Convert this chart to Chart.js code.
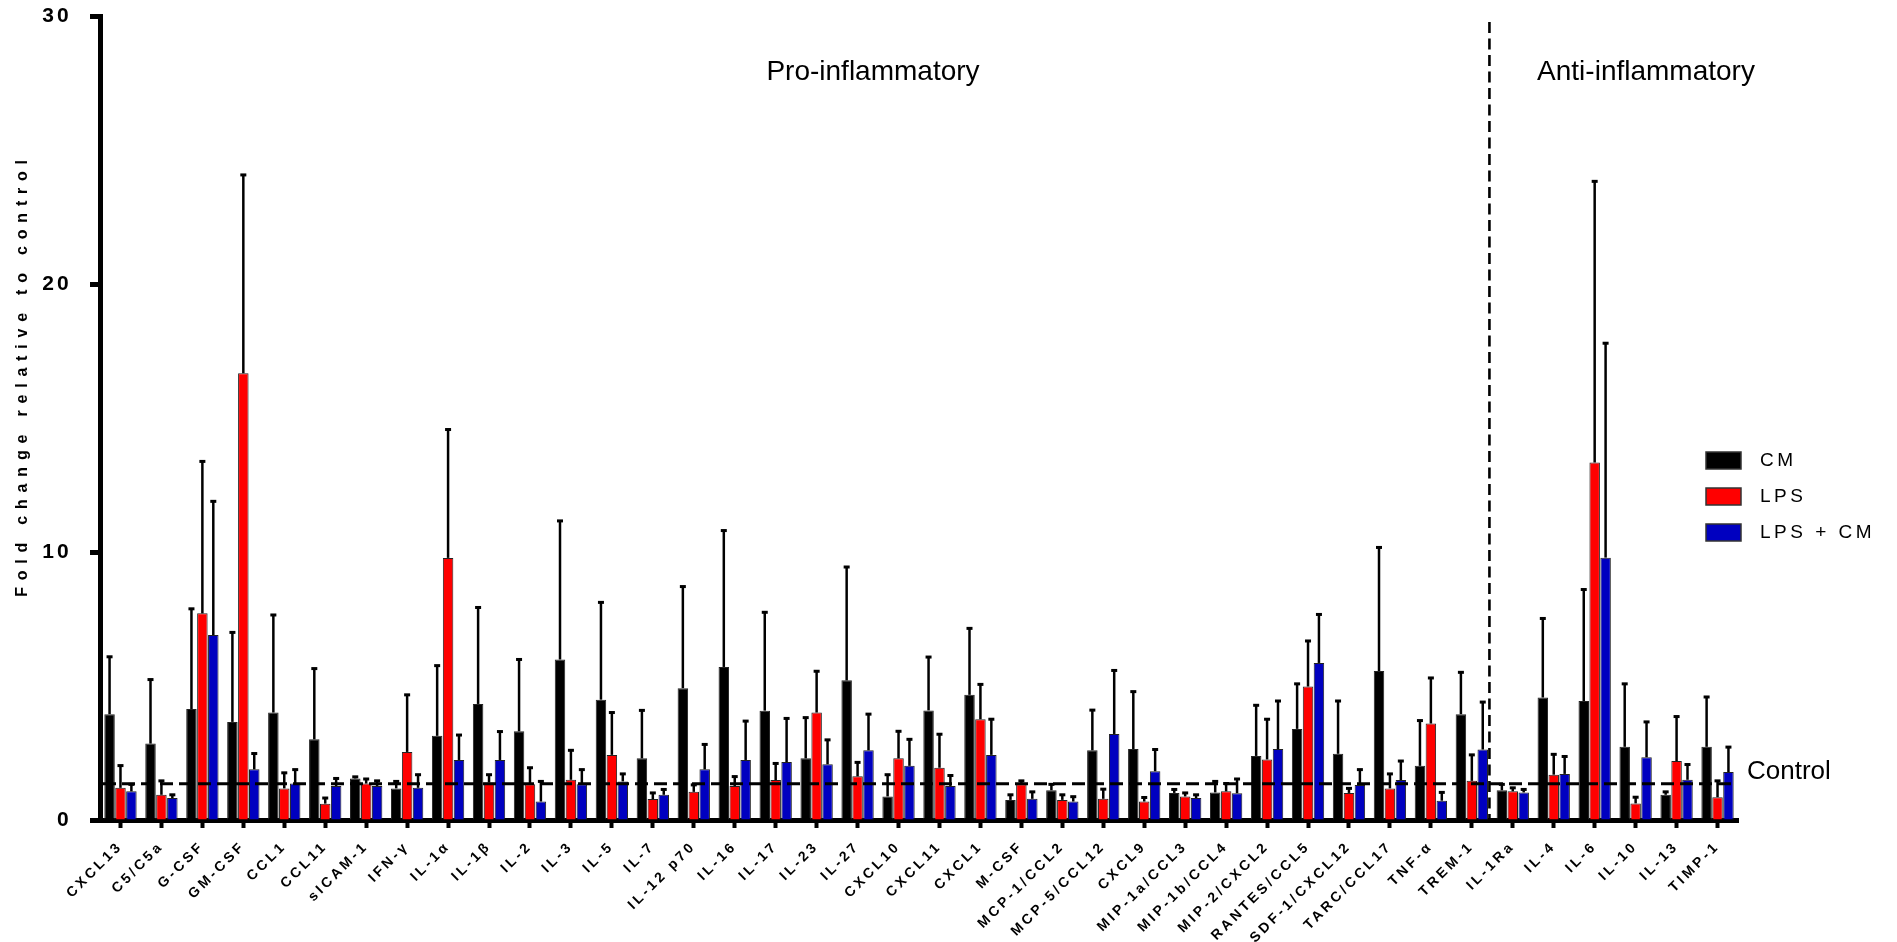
<!DOCTYPE html>
<html>
<head>
<meta charset="utf-8">
<script src="https://cdn.jsdelivr.net/npm/chart.js@4/dist/chart.umd.min.js"></script>
<style>
  html, body { margin: 0; padding: 0; background: #fff; }
  #wrap { width: 1897px; height: 942px; position: relative; }
</style>
</head>
<body>
<div id="wrap"><canvas id="c" width="1897" height="942"></canvas></div>
<script>
// Cytokine / chemokine panel: fold change relative to control (mean + upper SD)
const categories = ['CXCL13','C5/C5a','G-CSF','GM-CSF','CCL1','CCL11','sICAM-1','IFN-γ','IL-1α','IL-1β',
  'IL-2','IL-3','IL-5','IL-7','IL-12 p70','IL-16','IL-17','IL-23','IL-27','CXCL10',
  'CXCL11','CXCL1','M-CSF','MCP-1/CCL2','MCP-5/CCL12','CXCL9','MIP-1a/CCL3','MIP-1b/CCL4','MIP-2/CXCL2','RANTES/CCL5',
  'SDF-1/CXCL12','TARC/CCL17','TNF-α','TREM-1','IL-1Ra','IL-4','IL-6','IL-10','IL-13','TIMP-1'];

const cmMean = [3.95,2.85,4.14,3.66,4.01,3.01,1.55,1.18,3.14,4.33,
  3.31,5.99,4.49,2.30,4.92,5.71,4.08,2.30,5.21,0.88,
  4.09,4.67,0.75,1.11,2.60,2.65,1.01,1.03,2.39,3.40,
  2.47,5.56,2.02,3.95,1.11,4.57,4.44,2.73,0.94,2.73];
const cmErr = [2.14,2.39,3.74,3.34,3.64,2.64,0.06,0.26,2.62,3.60,
  2.68,5.17,3.63,1.79,3.79,5.09,3.67,1.52,4.23,0.81,
  1.99,2.48,0.19,0.22,1.50,2.14,0.13,0.41,1.89,1.68,
  1.97,4.61,1.69,1.56,0.22,2.95,4.16,2.35,0.11,1.86];

const lpsMean = [1.20,0.94,7.71,16.67,1.18,0.61,1.36,2.54,9.78,1.40,
  1.33,1.50,2.43,0.78,1.05,1.27,1.49,4.01,1.63,2.30,
  1.95,3.76,1.33,0.75,0.79,0.69,0.88,1.07,2.26,4.98,
  1.01,1.18,3.60,1.46,1.07,1.69,13.34,0.62,2.20,0.85];
const lpsErr = [0.83,0.52,5.67,7.40,0.58,0.21,0.17,2.13,4.79,0.29,
  0.62,1.10,1.58,0.23,0.26,0.35,0.62,1.54,0.52,1.01,
  1.25,1.30,0.13,0.19,0.36,0.15,0.13,0.29,1.50,1.70,
  0.17,0.54,1.70,0.97,0.13,0.76,10.49,0.23,1.66,0.61];

const lpsCmMean = [1.07,0.82,6.90,1.89,1.36,1.27,1.27,1.20,2.24,2.24,
  0.69,1.33,1.44,0.94,1.89,2.24,2.16,2.08,2.60,2.02,
  1.27,2.43,0.79,0.69,3.21,1.82,0.82,1.00,2.65,5.86,
  1.31,1.49,0.72,2.63,1.03,1.72,9.79,2.34,1.50,1.79];
const lpsCmErr = [0.26,0.12,4.99,0.59,0.52,0.28,0.19,0.49,0.93,1.06,
  0.75,0.55,0.28,0.20,0.93,1.45,1.63,0.91,1.35,0.99,
  0.39,1.33,0.26,0.18,2.37,0.81,0.12,0.53,1.79,1.81,
  0.57,0.71,0.31,1.77,0.11,0.65,8.00,1.32,0.57,0.93];

const seriesNames = ['CM', 'LPS', 'LPS + CM'];
const seriesColors = ['#000000', '#ff0000', '#0000c0'];
const yTicks = [0, 10, 20, 30];
const controlLevel = 1.35;          // control reference level
const groupSplit = 33.43;           // boundary between pro- and anti-inflammatory groups

const FONT = "'Liberation Sans', Arial, Helvetica, sans-serif";
Chart.defaults.font.family = FONT;
Chart.defaults.color = '#000';

const makeSet = (i, data, err) => ({
  label: seriesNames[i],
  data: data,
  errorUp: err,
  backgroundColor: seriesColors[i],
  borderColor: '#222',
  borderWidth: 1,
  borderSkipped: 'bottom',
  categoryPercentage: 0.8,
  barPercentage: 0.96
});

// letter spacing for axis text drawn by the scales
const spacingPlugin = {
  id: 'spacing',
  beforeDraw(chart) { chart.ctx.letterSpacing = '3.2px'; },
  beforeDatasetsDraw(chart) { chart.ctx.letterSpacing = '0px'; }
};

// upper error bars
const errorBars = {
  id: 'errorBars',
  afterDatasetsDraw(chart) {
    const ctx = chart.ctx, y = chart.scales.y;
    ctx.save();
    chart.data.datasets.forEach((ds, di) => {
      const meta = chart.getDatasetMeta(di);
      meta.data.forEach((bar, i) => {
        const top = y.getPixelForValue(ds.data[i] + ds.errorUp[i]);
        ctx.strokeStyle = '#000';
        ctx.lineWidth = 2.5;
        ctx.beginPath();
        ctx.moveTo(bar.x, bar.y);
        ctx.lineTo(bar.x, top);
        ctx.stroke();
        ctx.fillStyle = '#000';
        ctx.fillRect(bar.x - 3, top - 1.5, 6, 3);
      });
    });
    ctx.restore();
  }
};

// control level, group divider, annotations, legend and y title
const overlay = {
  id: 'overlay',
  afterDatasetsDraw(chart) {
    const ctx = chart.ctx, x = chart.scales.x, y = chart.scales.y, a = chart.chartArea;
    ctx.save();
    ctx.strokeStyle = '#000';
    // control dashed line
    const cy = y.getPixelForValue(controlLevel);
    ctx.lineWidth = 3;
    ctx.setLineDash([13, 6]);
    ctx.beginPath();
    ctx.moveTo(a.left + 3, cy);
    ctx.lineTo(a.right - 4, cy);
    ctx.stroke();
    // vertical divider
    const vx = x.getPixelForValue(groupSplit);
    ctx.lineWidth = 2.6;
    ctx.setLineDash([11, 5.5]);
    ctx.beginPath();
    ctx.moveTo(vx, a.top + 6);
    ctx.lineTo(vx, a.bottom);
    ctx.stroke();
    ctx.restore();
  },
  afterDraw(chart) {
    const ctx = chart.ctx, y = chart.scales.y;
    ctx.save();
    ctx.letterSpacing = '0px';
    ctx.fillStyle = '#000';
    ctx.textBaseline = 'middle';
    ctx.textAlign = 'center';
    ctx.font = '28px ' + FONT;
    ctx.fillText('Pro-inflammatory', 873, 72);
    ctx.fillText('Anti-inflammatory', 1646, 72);
    ctx.textAlign = 'left';
    ctx.font = '26px ' + FONT;
    ctx.fillText('Control', 1747, y.getPixelForValue(controlLevel) - 12);

    // legend
    ctx.font = '19px ' + FONT;
    ctx.letterSpacing = '3.5px';
    seriesNames.forEach((n, i) => {
      const ry = 460 + i * 36;
      ctx.fillStyle = seriesColors[i];
      ctx.fillRect(1706, ry - 8, 35, 17);
      ctx.strokeStyle = '#333';
      ctx.lineWidth = 1.5;
      ctx.strokeRect(1706, ry - 8, 35, 17);
      ctx.fillStyle = '#000';
      ctx.fillText(n, 1760, ry + 1);
    });

    // y axis title
    ctx.save();
    ctx.translate(23, 375);
    ctx.rotate(-Math.PI / 2);
    ctx.textAlign = 'center';
    ctx.font = 'bold 16px ' + FONT;
    ctx.letterSpacing = '6.8px';
    ctx.fillText('Fold change relative to control', 0, 0);
    ctx.restore();
    ctx.restore();
  }
};

new Chart(document.getElementById('c'), {
  type: 'bar',
  data: {
    labels: categories,
    datasets: [makeSet(0, cmMean, cmErr), makeSet(1, lpsMean, lpsErr), makeSet(2, lpsCmMean, lpsCmErr)]
  },
  options: {
    responsive: false,
    animation: false,
    layout: { padding: { top: 16, right: 159, left: 0, bottom: 0 } },
    plugins: { legend: { display: false }, tooltip: { enabled: false } },
    scales: {
      x: {
        offset: true,
        grid: { display: true, drawOnChartArea: false, offset: false, drawTicks: true,
                tickLength: 8, tickWidth: 4, tickColor: '#000' },
        border: { display: true, width: 5, color: '#000' },
        ticks: { autoSkip: false, maxRotation: 45, minRotation: 45, padding: 10,
                 font: { size: 14, weight: 'bold' }, color: '#000' },
        afterFit(s) { s.height = 122; s.paddingLeft = 0; s.paddingRight = 0; }
      },
      y: {
        min: 0, max: 30,
        afterBuildTicks(s) { s.ticks = yTicks.map(v => ({ value: v })); },
        grid: { display: true, drawOnChartArea: false, drawTicks: true,
                tickLength: 10, tickWidth: 5, tickColor: '#000' },
        border: { display: true, width: 5, color: '#000' },
        ticks: { padding: 18, font: { size: 21, weight: 'bold' }, color: '#000' },
        afterFit(s) { s.width = 100; s.paddingTop = 0; s.paddingBottom = 0; }
      }
    }
  },
  plugins: [spacingPlugin, errorBars, overlay]
});
</script>
</body>
</html>
